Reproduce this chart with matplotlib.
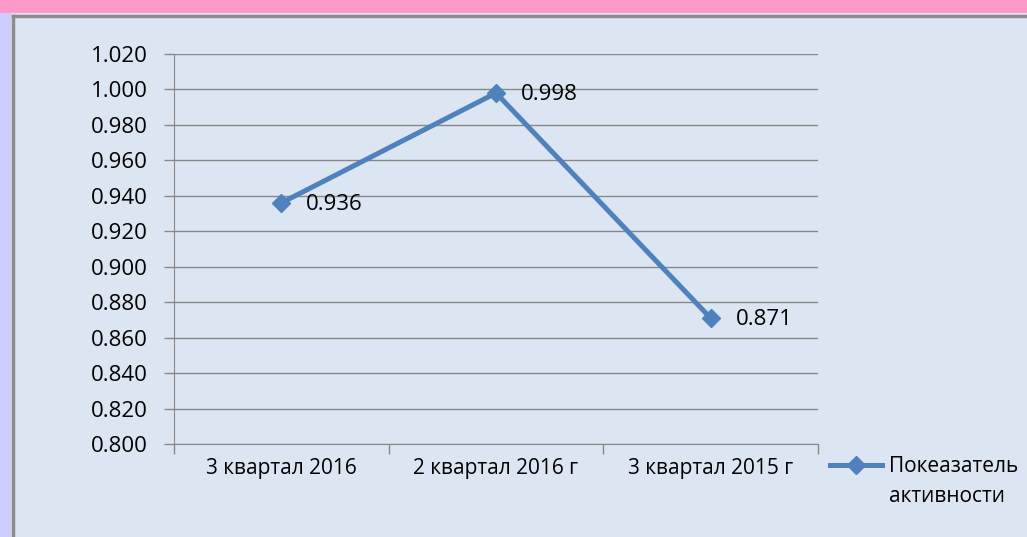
import matplotlib.pyplot as plt
from matplotlib.patches import Rectangle
from matplotlib.lines import Line2D

categories = ["3 квартал 2016", "2 квартал 2016 г", "3 квартал 2015 г"]
values = [0.936, 0.998, 0.871]
legend_lines = ["Покеазатель", "активности"]
y_ticks = [0.800, 0.820, 0.840, 0.860, 0.880, 0.900, 0.920, 0.940, 0.960, 0.980, 1.000, 1.020]

W, H = 1027, 537
bg = "#DCE6F2"
blue = "#4F81BD"
grid = "#888888"

plt.rcParams['font.family'] = ['Open Sans', 'DejaVu Sans']

fig = plt.figure(figsize=(W / 100, H / 100), dpi=100)
fig.patch.set_facecolor(bg)

# decorative frame: pink top strip, lavender left strip, grey border
fig.patches.append(Rectangle((0, 1 - 13 / H), 1, 13 / H, transform=fig.transFigure,
                             facecolor="#FF99C7", edgecolor="none", zorder=0))
fig.patches.append(Rectangle((0, 0), 11 / W, 1 - 13 / H, transform=fig.transFigure,
                             facecolor="#CCCCFF", edgecolor="none", zorder=0))
fig.lines.append(Line2D([12.5 / W, 1], [1 - 15.5 / H, 1 - 15.5 / H], transform=fig.transFigure,
                        color="#8C8C8C", lw=2.5))
fig.lines.append(Line2D([12.5 / W, 12.5 / W], [0, 1 - 15.5 / H], transform=fig.transFigure,
                        color="#8C8C8C", lw=2.5))

ax = fig.add_axes([174 / W, 1 - 444 / H, (818 - 174) / W, (444 - 54) / H])
ax.set_facecolor(bg)

x = list(range(len(categories)))
ax.plot(x, values, color=blue, lw=3.6, marker="D", markersize=9.5,
        label=legend_lines[0], zorder=3)
for xi, v in zip(x, values):
    ax.annotate(f"{v:.3f}", (xi, v), xytext=(18, -1), textcoords="offset points",
                va="center", ha="left", fontsize=16)

ax.set_xlim(-0.5, 2.5)
ax.set_ylim(0.800, 1.020)
ax.set_yticks(y_ticks)
ax.set_yticklabels([f"{t:.3f}" for t in y_ticks], fontsize=16)
ax.yaxis.grid(True, color=grid, lw=1)
ax.set_axisbelow(True)

ax.set_xticks([-0.5, 0.5, 1.5, 2.5])
ax.set_xticklabels([])
ax.set_xticks(x, minor=True)
ax.set_xticklabels(categories, minor=True, fontsize=15)
ax.tick_params(axis="x", which="major", length=7, color=grid, width=1)
ax.tick_params(axis="x", which="minor", length=0, pad=10)
ax.tick_params(axis="y", length=7, color=grid, width=1, pad=12)

for side in ["top", "right"]:
    ax.spines[side].set_visible(False)
for side in ["left", "bottom"]:
    ax.spines[side].set_color(grid)

ax.legend(loc="center left", bbox_to_anchor=(830 / W, 1 - 467 / H),
          bbox_transform=fig.transFigure, frameon=False, fontsize=15,
          handlelength=2.5, handletextpad=0.35, borderpad=0, borderaxespad=0)
fig.text(889 / W, 1 - 496 / H, legend_lines[1], fontsize=15, va="center", ha="left")

fig.savefig("out.png", dpi=100, facecolor=fig.get_facecolor())
